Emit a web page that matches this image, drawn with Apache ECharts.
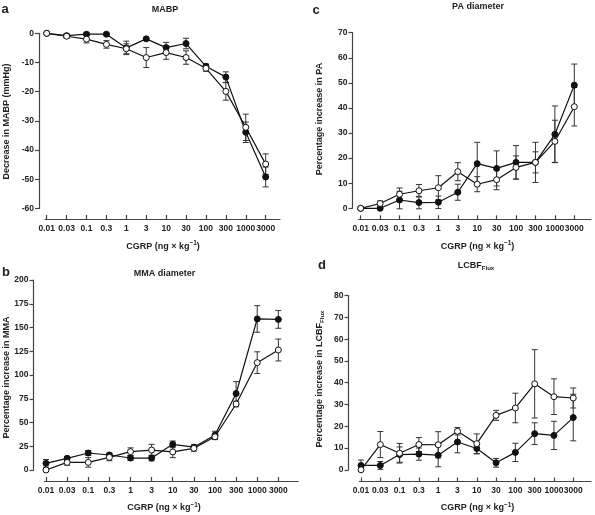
<!DOCTYPE html>
<html>
<head>
<meta charset="utf-8">
<script src="https://cdn.jsdelivr.net/npm/echarts@6/dist/echarts.min.js"></script>
<style>html,body{margin:0;padding:0;background:#fff}#c{width:595px;height:515px}</style>
</head>
<body>
<div id="c"></div>
<script>
// ---- data ----
const doses = ['0.01','0.03','0.1','0.3','1','3','10','30','100','300','1000','3000'];

const mabpFilled    = [0, -0.8, -0.3, -0.3, -5.0, -1.9, -4.9, -3.5, -11.3, -15.0, -33.9, -49.2];
const mabpFilledErr = [0, 0.5, 0.5, 0.4, 2.3, 0.5, 1.8, 1.8, 0.8, 1.8, 3.5, 3.4];
const mabpOpen      = [0, -1.0, -2.0, -3.8, -5.3, -8.3, -6.6, -8.3, -12.0, -19.9, -32.2, -44.8];
const mabpOpenErr   = [0, 0.7, 1.3, 1.3, 1.7, 3.4, 2.3, 2.3, 1.0, 3.0, 4.5, 3.5];

const mmaFilled     = [7, 12.3, 17.9, 15.8, 12.6, 12.6, 27, 24, 36.8, 80.5, 159, 158.5];
const mmaFilledErr  = [4, 2, 2.5, 2, 2.5, 3, 3.5, 2.5, 4, 12.5, 14, 9.3];
const mmaOpen       = [0, 8, 8, 13.3, 19.3, 21, 19, 22.8, 35, 69.5, 113, 126.3];
const mmaOpenErr    = [0, 3, 5, 3.5, 4, 6, 6, 3, 3, 3, 11.4, 11.5];

const paFilled      = [0, 0, 3.3, 2.3, 2.4, 6.4, 17.8, 15.9, 18.3, 18.3, 29.5, 49.1];
const paFilledErr   = [0, 0.5, 3.5, 2.5, 2.5, 3.2, 8.5, 7, 6.7, 8, 11.3, 8.4];
const paOpen        = [0, 1.9, 5.6, 7, 8.2, 14.6, 9.6, 11.4, 16.3, 18.3, 26.7, 40.5];
const paOpenErr     = [0, 1, 2.5, 2.5, 4.8, 3.6, 3, 4, 4.6, 4.2, 8.4, 7.7];

const lcbfFilled    = [2, 2, 7, 7.2, 6.7, 12.8, 9.8, 3.2, 8, 16.6, 15.8, 24];
const lcbfFilledErr = [2.5, 1.8, 3.5, 2.8, 5.3, 5, 2.5, 2, 4.2, 5, 6.5, 10.7];
const lcbfOpen      = [0, 11.6, 7.6, 11.6, 11.5, 17.7, 12, 25, 28.4, 39.5, 33.6, 33];
const lcbfOpenErr   = [0, 6, 4.5, 3.2, 6, 1.7, 4.5, 2.3, 6.8, 15.7, 8.2, 4.6];

const yTicksA = {min: -60, max: 0, interval: 10};
const yTicksB = {min: 0, max: 200, interval: 25};
const yTicksC = {min: 0, max: 70, interval: 10};
const yTicksD = {min: 0, max: 80, interval: 10};

// ---- layout ----
const FONT = 'Liberation Sans, Arial, Helvetica, sans-serif';
const AX = '#444';
const TXT = '#222';
const idx = doses.map((d, i) => i);

const panels = [
  {grid:{left:45, top:33.3, width:235, height:175.2}, xmin:-0.085, xmax:11.72, xoff:10.5, yoff:6, y:yTicksA,
   f:mabpFilled, fe:mabpFilledErr, o:mabpOpen, oe:mabpOpenErr},
  {grid:{left:44.5, top:280, width:253.5, height:190}, xmin:-0.071, xmax:11.93, xoff:11, yoff:11, y:yTicksB,
   f:mmaFilled, fe:mmaFilledErr, o:mmaOpen, oe:mmaOpenErr},
  {grid:{left:358.5, top:32.7, width:232.5, height:175.6}, xmin:-0.113, xmax:11.86, xoff:11, yoff:6, y:yTicksC,
   f:paFilled, fe:paFilledErr, o:paOpen, oe:paOpenErr},
  {grid:{left:359.5, top:295.7, width:231.5, height:174.1}, xmin:-0.078, xmax:11.92, xoff:11.7, yoff:11, y:yTicksD,
   f:lcbfFilled, fe:lcbfFilledErr, o:lcbfOpen, oe:lcbfOpenErr}
];

const grids = [], xAxes = [], yAxes = [], series = [];

function errRender(params, api) {
  const x = api.value(0), y = api.value(1), e = api.value(2);
  if (!e) return null;
  const t = api.coord([x, y + e]);
  const b = api.coord([x, y - e]);
  const w = 3;
  const st = {stroke: '#333', lineWidth: 1};
  return {type: 'group', children: [
    {type: 'line', shape: {x1: t[0], y1: t[1], x2: b[0], y2: b[1]}, style: st},
    {type: 'line', shape: {x1: t[0] - w, y1: t[1], x2: t[0] + w, y2: t[1]}, style: st},
    {type: 'line', shape: {x1: b[0] - w, y1: b[1], x2: b[0] + w, y2: b[1]}, style: st}
  ]};
}

panels.forEach((p, k) => {
  grids.push(Object.assign({containLabel: false}, p.grid));
  xAxes.push({
    type: 'value', gridIndex: k, position: 'bottom', min: p.xmin, max: p.xmax, offset: p.xoff,
    axisLine: {show: true, onZero: false, lineStyle: {color: AX, width: 1.2}},
    axisTick: {show: true, inside: true, length: 4, customValues: idx, lineStyle: {color: AX, width: 1.2}},
    axisLabel: {show: true, customValues: idx, formatter: v => doses[Math.round(v)],
      showMinLabel: true, showMaxLabel: true, hideOverlap: false,
      fontSize: 8.5, fontWeight: 'bold', color: TXT, margin: 5, fontFamily: FONT},
    splitLine: {show: false}
  });
  yAxes.push({
    type: 'value', gridIndex: k, position: 'left', min: p.y.min, max: p.y.max, interval: p.y.interval, offset: p.yoff,
    axisLine: {show: true, onZero: false, lineStyle: {color: AX, width: 1.2}},
    axisTick: {show: true, inside: false, length: 4, lineStyle: {color: AX, width: 1.2}},
    axisLabel: {fontSize: 8.5, fontWeight: 'bold', color: TXT, margin: 5, fontFamily: FONT,
      showMinLabel: true, showMaxLabel: true},
    splitLine: {show: false}
  });
  series.push({
    type: 'custom', xAxisIndex: k, yAxisIndex: k, renderItem: errRender, z: 3,
    encode: {x: 0, y: 1}, data: idx.map(i => [i, p.o[i], p.oe[i]])
  });
  series.push({
    type: 'custom', xAxisIndex: k, yAxisIndex: k, renderItem: errRender, z: 3,
    encode: {x: 0, y: 1}, data: idx.map(i => [i, p.f[i], p.fe[i]])
  });
  series.push({
    type: 'line', xAxisIndex: k, yAxisIndex: k, z: 4,
    data: idx.map(i => [i, p.f[i]]),
    symbol: 'circle', symbolSize: 6,
    lineStyle: {color: '#111', width: 1.2},
    itemStyle: {color: '#111', borderColor: '#111', borderWidth: 1}
  });
  series.push({
    type: 'line', xAxisIndex: k, yAxisIndex: k, z: 5,
    data: idx.map(i => [i, p.o[i]]),
    symbol: 'circle', symbolSize: 6,
    lineStyle: {color: '#111', width: 1.2},
    itemStyle: {color: '#fff', borderColor: '#111', borderWidth: 1}
  });
});

function txt(x, y, text, size, opts) {
  return Object.assign({
    type: 'text', x: x, y: y, silent: true,
    style: Object.assign({text: text, fontSize: size, fontWeight: 'bold', fontFamily: FONT, fill: TXT,
      textAlign: 'center', textVerticalAlign: 'middle'}, (opts && opts.style) || {})
  }, (opts && opts.el) || {});
}
const cgrpRich = {sup: {fontSize: 6.5, fontWeight: 'bold', fontFamily: FONT, fill: TXT, verticalAlign: 'top', padding: [0, 0, 6, 0]}};
const cgrp = 'CGRP (ng × kg{sup|−1})';
const rot = {el: {rotation: Math.PI / 2}};
const subRich = {sub: {fontSize: 6, fontWeight: 'bold', fontFamily: FONT, fill: TXT, padding: [5, 0, 0, 0]}};

const graphics = [
  txt(5, 9.5, 'a', 13),
  txt(6, 272.5, 'b', 13),
  txt(316, 10, 'c', 13),
  txt(322, 265.5, 'd', 13),
  txt(165, 9.5, 'MABP', 9),
  txt(164.5, 273.5, 'MMA diameter', 9),
  txt(478, 6.5, 'PA diameter', 9),
  txt(476, 266, 'LCBF{sub|Flux}', 9, {style: {rich: subRich}}),
  txt(163, 246.5, cgrp, 9, {style: {rich: cgrpRich}}),
  txt(164, 508, cgrp, 9, {style: {rich: cgrpRich}}),
  txt(477.5, 246.5, cgrp, 9, {style: {rich: cgrpRich}}),
  txt(477.5, 508, cgrp, 9, {style: {rich: cgrpRich}}),
  txt(7, 121.5, 'Decrease in MABP (mmHg)', 9, rot),
  txt(7, 377.5, 'Percentage increase in MMA', 9, rot),
  txt(320, 119, 'Percentage increase in PA', 9, rot),
  txt(320, 379, 'Percentage increase in LCBF{sub|Flux}', 9, {el: {rotation: Math.PI / 2}, style: {rich: subRich}})
];

const chart = echarts.init(document.getElementById('c'), null, {renderer: 'canvas'});
chart.setOption({
  animation: false,
  backgroundColor: '#fff',
  grid: grids, xAxis: xAxes, yAxis: yAxes, series: series,
  graphic: {elements: graphics}
});
</script>
</body>
</html>
